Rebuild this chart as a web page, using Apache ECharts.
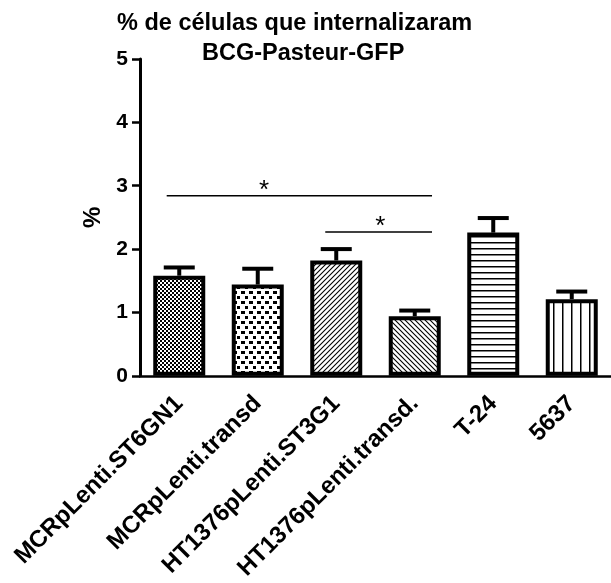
<!DOCTYPE html>
<html>
<head>
<meta charset="utf-8">
<script src="https://cdn.jsdelivr.net/npm/echarts@6/dist/echarts.min.js"></script>
<style>
  html, body { margin: 0; padding: 0; background: #fff; }
  #chart { width: 611px; height: 583px; }
</style>
</head>
<body>
<div id="chart"></div>
<script>
// Cell lines and measured percentages
const categories = ['MCRpLenti.ST6GN1', 'MCRpLenti.transd', 'HT1376pLenti.ST3G1', 'HT1376pLenti.transd.', 'T-24', '5637'];
const means = [1.58, 1.44, 1.82, 0.94, 2.26, 1.21];
const errors = [0.13, 0.25, 0.18, 0.09, 0.23, 0.12];
const yTicks = [0, 1, 2, 3, 4, 5];

// Significance brackets: [start, end, height, star position]
const brackets = [
  [-0.16, 3.22, 2.84, 1.08],
  [1.86, 3.22, 2.27, 2.56]
];

const FONT = '"Liberation Sans", Arial, sans-serif';

function makeTile(w, h, draw) {
  const c = document.createElement('canvas');
  c.width = w; c.height = h;
  const g = c.getContext('2d');
  g.fillStyle = '#fff';
  g.fillRect(0, 0, w, h);
  g.fillStyle = '#000';
  g.strokeStyle = '#000';
  draw(g, w, h);
  return { image: c, repeat: 'repeat' };
}

// Fill patterns, one per bar
const patterns = [
  makeTile(4, 4, g => { g.fillRect(0, 0, 2, 2); g.fillRect(2, 2, 2, 2); }),
  makeTile(8, 10, g => { g.fillRect(1, 1, 4, 3); g.fillRect(5, 6, 4, 3); }),
  makeTile(5, 5, g => {
    g.lineWidth = 1.1;
    g.beginPath();
    g.moveTo(-1, 6); g.lineTo(6, -1);
    g.moveTo(-1, 1); g.lineTo(1, -1);
    g.moveTo(4, 6); g.lineTo(6, 4);
    g.stroke();
  }),
  makeTile(5, 5, g => {
    g.lineWidth = 1.1;
    g.beginPath();
    g.moveTo(-1, -1); g.lineTo(6, 6);
    g.moveTo(4, -1); g.lineTo(6, 1);
    g.moveTo(-1, 4); g.lineTo(1, 6);
    g.stroke();
  }),
  makeTile(6, 6, g => { g.fillRect(0, 2, 6, 1.5); }),
  makeTile(9, 6, g => { g.fillRect(4, 0, 1.5, 6); })
];

const chart = echarts.init(document.getElementById('chart'), null, { renderer: 'canvas' });

chart.setOption({
  animation: false,
  backgroundColor: '#fff',
  title: [
    { text: '% de células que internalizaram', left: 117, top: 12, padding: 0,
      textStyle: { fontFamily: FONT, fontSize: 23.5, fontWeight: 'bold', color: '#000' } },
    { text: 'BCG-Pasteur-GFP', left: 202, top: 42, padding: 0,
      textStyle: { fontFamily: FONT, fontSize: 23.5, fontWeight: 'bold', color: '#000' } }
  ],
  grid: { left: 140, right: -6, top: 59, bottom: 205, containLabel: false },
  xAxis: [
    {
      type: 'category',
      data: categories,
      axisLine: { lineStyle: { color: '#000', width: 2.5 } },
      axisTick: { alignWithLabel: true, length: 9, lineStyle: { color: '#000', width: 3 } },
      axisLabel: {
        interval: 0, rotate: 45, margin: 24, color: '#000',
        fontFamily: FONT, fontSize: 24, fontWeight: 'bold'
      }
    },
    { type: 'value', min: -0.5, max: 5.5, show: false }
  ],
  yAxis: {
    type: 'value', min: 0, max: 5, interval: 1,
    name: '%', nameLocation: 'middle', nameGap: 35, nameRotate: 90,
    nameTextStyle: { fontFamily: FONT, fontSize: 24, fontWeight: 'bold', color: '#000' },
    axisLine: { show: true, onZero: false, lineStyle: { color: '#000', width: 3 } },
    axisTick: { show: true, length: 8, lineStyle: { color: '#000', width: 2.5 } },
    splitLine: { show: false },
    axisLabel: {
      margin: 12, color: '#000', fontFamily: FONT, fontSize: 21, fontWeight: 'bold',
      formatter: v => (yTicks.indexOf(v) >= 0 ? String(v) : '')
    }
  },
  series: [
    {
      type: 'bar',
      xAxisIndex: 0,
      barWidth: 52,
      data: means.map((v, i) => ({
        value: v,
        itemStyle: { color: patterns[i], borderColor: '#000', borderWidth: 4 }
      })),
      z: 2
    },
    {
      // SEM error bars drawn upward from each bar top
      type: 'custom',
      xAxisIndex: 1,
      data: means.map((v, i) => [i, v, v + errors[i]]),
      renderItem: (params, api) => {
        const base = api.coord([api.value(0), api.value(1)]);
        const top = api.coord([api.value(0), api.value(2)]);
        return {
          type: 'group',
          children: [
            { type: 'line', shape: { x1: base[0], y1: base[1], x2: top[0], y2: top[1] },
              style: { stroke: '#000', lineWidth: 4 } },
            { type: 'line', shape: { x1: top[0] - 15.5, y1: top[1], x2: top[0] + 15.5, y2: top[1] },
              style: { stroke: '#000', lineWidth: 4 } }
          ]
        };
      },
      z: 3
    },
    {
      // Significance lines with asterisks
      type: 'custom',
      xAxisIndex: 1,
      data: brackets,
      renderItem: (params, api) => {
        const a = api.coord([api.value(0), api.value(2)]);
        const b = api.coord([api.value(1), api.value(2)]);
        const s = api.coord([api.value(3), api.value(2)]);
        return {
          type: 'group',
          children: [
            { type: 'line', shape: { x1: a[0], y1: a[1], x2: b[0], y2: b[1] },
              style: { stroke: '#000', lineWidth: 1.5 } },
            { type: 'text', x: s[0], y: s[1] + 8,
              style: { text: '*', fill: '#000', font: '26px ' + FONT, textAlign: 'center', textVerticalAlign: 'bottom' } }
          ]
        };
      },
      z: 3
    }
  ]
});
</script>
</body>
</html>
